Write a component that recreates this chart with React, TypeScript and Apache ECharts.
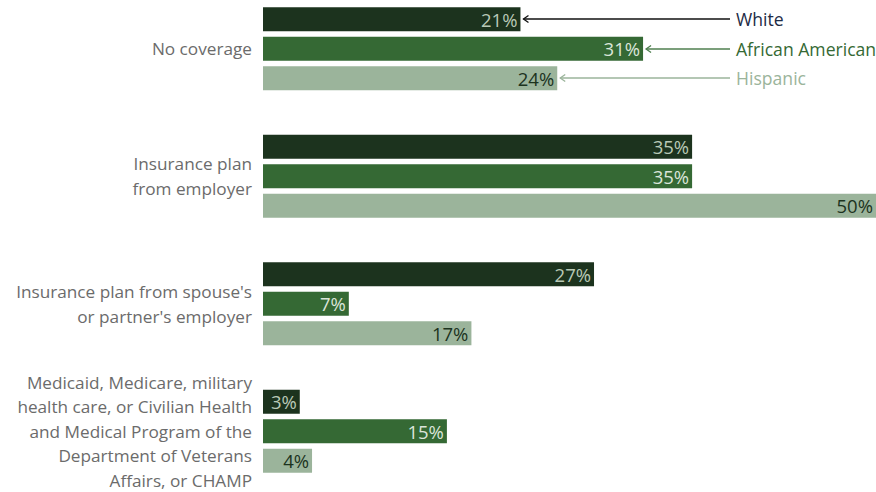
import React, { useEffect, useRef } from "react";
import * as echarts from "echarts";

const categories = [
  "No coverage",
  "Insurance plan\nfrom employer",
  "Insurance plan from spouse's\nor partner's employer",
  "Medicaid, Medicare, military\nhealth care, or Civilian Health\nand Medical Program of the\nDepartment of Veterans\nAffairs, or CHAMP",
];
const seriesNames = ["White", "African American", "Hispanic"];
const whiteValues = [21, 35, 27, 3];
const africanAmericanValues = [31, 35, 7, 15];
const hispanicValues = [24, 50, 17, 4];

const barColors = ["#1c331e", "#356934", "#9bb49b"];
const labelColors = ["#b9c9b6", "#dbe5d9", "#1c331e"];
const legendTextColors = ["#1d2b45", "#356934", "#9bb49b"];
const legendLineColors = ["#111111", "#4f7f4f", "#9bb49b"];

const FONT = "'Open Sans', sans-serif";

export default function App() {
  const ref = useRef<HTMLDivElement>(null);
  useEffect(() => {
    if (!ref.current) return;
    const chart = echarts.init(ref.current, null, { renderer: "svg" });
    const values = [whiteValues, africanAmericanValues, hispanicValues];
    const barWidth = 24;
    const barGapPx = 5.5;
    chart.setOption({
      animation: false,
      grid: {
        left: 263,
        right: 0,
        top: -15,
        height: 510,
        containLabel: false,
        outerBoundsMode: "none",
      },
      xAxis: { type: "value", min: 0, max: 50, show: false },
      yAxis: {
        type: "category",
        data: categories,
        inverse: true,
        axisLine: { show: false },
        axisTick: { show: false },
        axisLabel: {
          color: "#6b6b6b",
          fontFamily: FONT,
          fontSize: 17.2,
          lineHeight: 24.6,
          margin: 11,
          align: "right",
        },
      },
      series: values.map((v, i) => ({
        type: "bar",
        name: seriesNames[i],
        data: v,
        barWidth,
        barGap: (barGapPx / barWidth) * 100 + "%",
        itemStyle: { color: barColors[i] },
        label: {
          show: true,
          position: "insideRight",
          distance: 3,
          formatter: "{c}%",
          color: labelColors[i],
          fontFamily: FONT,
          fontSize: 18.5,
        },
      })),
    });
    // legend annotations pointing to the first group's bars
    const pitch = barWidth + barGapPx;
    const yCenter = chart.convertToPixel({ yAxisIndex: 0 }, 0) as number;
    const textX = 736;
    const graphics: any[] = [];
    values.forEach((v, i) => {
      const y = Math.round(yCenter + (i - 1) * pitch);
      const tipX = (chart.convertToPixel({ xAxisIndex: 0 }, v[0]) as number) + 3;
      const endX = textX - 6;
      graphics.push({
        type: "line",
        shape: { x1: tipX, y1: y, x2: endX, y2: y },
        style: { stroke: legendLineColors[i], lineWidth: 1.3 },
      });
      graphics.push({
        type: "polyline",
        shape: { points: [[tipX + 5, y - 3.5], [tipX, y], [tipX + 5, y + 3.5]] },
        style: { stroke: legendLineColors[i], lineWidth: 1.3, fill: "none" },
      });
      graphics.push({
        type: "text",
        x: textX,
        y,
        style: {
          text: seriesNames[i],
          fill: legendTextColors[i],
          font: `17.6px ${FONT}`,
          textVerticalAlign: "middle",
          verticalAlign: "middle",
        },
      });
    });
    chart.setOption({ graphic: graphics });
    return () => chart.dispose();
  }, []);
  return (
    <div
      ref={ref}
      style={{ position: "absolute", left: 0, top: 0, width: 876, height: 492 }}
    />
  );
}
